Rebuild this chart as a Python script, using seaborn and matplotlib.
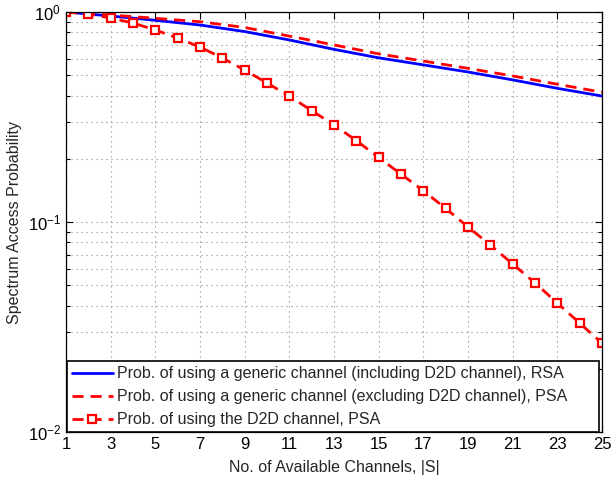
import numpy as np
import pandas as pd
import matplotlib
matplotlib.use("Agg")
import matplotlib.pyplot as plt
import seaborn as sns
from matplotlib.ticker import LogLocator, FixedLocator, NullFormatter

# Number of available channels |S|
channels_all = list(range(1, 26))
channels_odd = list(range(1, 26, 2))

# Probability of using a generic channel (including D2D channel), RSA
p_generic_rsa = [1.0, 0.957, 0.913, 0.867, 0.807, 0.736, 0.664, 0.605,
                 0.560, 0.518, 0.475, 0.433, 0.398]
# Probability of using a generic channel (excluding D2D channel), PSA
p_generic_psa = [1.0, 0.968, 0.933, 0.899, 0.844, 0.768, 0.697, 0.632,
                 0.584, 0.539, 0.496, 0.453, 0.415]
# Probability of using the D2D channel, PSA
p_d2d_psa = [1.0, 0.978, 0.936, 0.886, 0.821, 0.752, 0.681, 0.604, 0.529,
             0.459, 0.398, 0.339, 0.290, 0.244, 0.203, 0.169, 0.141, 0.116,
             0.0947, 0.0777, 0.0631, 0.0513, 0.0411, 0.0330, 0.0265]

labels = [
    "Prob. of using a generic channel (including D2D channel), RSA",
    "Prob. of using a generic channel (excluding D2D channel), PSA",
    "Prob. of using the D2D channel, PSA",
]

sns.set_style("white")
plt.rcParams["font.family"] = ["Liberation Sans", "DejaVu Sans"]
plt.rcParams["mathtext.fontset"] = "custom"
plt.rcParams["mathtext.rm"] = "Liberation Sans"
plt.rcParams["mathtext.it"] = "Liberation Sans:italic"

df_rsa = pd.DataFrame({"S": channels_odd, "p": p_generic_rsa})
df_psa = pd.DataFrame({"S": channels_odd, "p": p_generic_psa})
df_d2d = pd.DataFrame({"S": channels_all, "p": p_d2d_psa})

fig = plt.figure(figsize=(6.12, 4.87), dpi=100)
ax = fig.add_axes([66 / 612, 1 - 432 / 487, (602 - 66) / 612, (432 - 12) / 487])

sns.lineplot(data=df_rsa, x="S", y="p", ax=ax, color="#0000ff", lw=2.0,
             label=labels[0])
sns.lineplot(data=df_psa, x="S", y="p", ax=ax, color="#ff0000", lw=2.0,
             label=labels[1])
sns.lineplot(data=df_d2d, x="S", y="p", ax=ax, color="#ff0000", lw=2.0,
             marker="s", markersize=5.5, markerfacecolor="white",
             markeredgecolor="#ff0000", markeredgewidth=1.6, label=labels[2])
for ln in ax.get_lines()[1:]:
    ln.set_dashes([4, 2.5])

ax.set_yscale("log")
ax.set_xlim(1, 25)
ax.set_ylim(1e-2, 1)
ax.xaxis.set_major_locator(FixedLocator(list(range(1, 26, 2))))
ax.yaxis.set_major_locator(LogLocator(base=10))
ax.yaxis.set_minor_locator(LogLocator(base=10, subs=np.arange(2, 10)))
ax.yaxis.set_minor_formatter(NullFormatter())

ax.grid(True, which="major", axis="both", color="#888888", ls=(0, (1, 3.5)), lw=0.8)
ax.grid(True, which="minor", axis="y", color="#888888", ls=(0, (1, 3.5)), lw=0.8)

ax.tick_params(which="both", direction="in", top=True, right=True,
               bottom=True, left=True, colors="black")
ax.tick_params(which="major", length=5, width=0.8, labelsize=12)
ax.tick_params(which="minor", length=3, width=0.8)
for sp in ax.spines.values():
    sp.set_color("black")
    sp.set_linewidth(0.9)

ax.set_xlabel("No. of Available Channels, |S|", fontsize=11.5, labelpad=6)
ax.set_ylabel("Spectrum Access Probability", fontsize=11.5, labelpad=4)

leg = ax.legend(loc="lower left", bbox_to_anchor=(0.002, 0.0, 0.992, 0.2),
                mode="expand", borderaxespad=0.0,
                fontsize=11.5, frameon=True, fancybox=False, framealpha=1,
                edgecolor="black", handlelength=2.55, handletextpad=0.3,
                labelspacing=0.5, borderpad=0.3)
leg.get_frame().set_linewidth(1.2)

fig.savefig("out.png", dpi=100)
